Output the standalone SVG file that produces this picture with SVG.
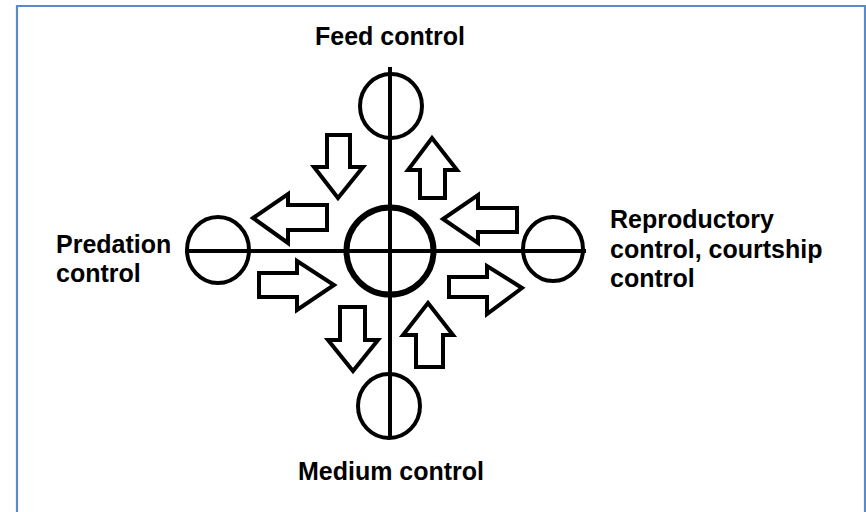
<svg xmlns="http://www.w3.org/2000/svg" width="866" height="512" viewBox="0 0 866 512">
<style>
.lbl{font-family:"Liberation Sans",Arial,sans-serif;font-weight:bold;font-size:25px;fill:#000}
.c{fill:none;stroke:#000;stroke-width:4}
.ln{stroke:#000;stroke-width:4;fill:none}
.ar{fill:#fff;stroke:#000;stroke-width:4;stroke-linejoin:miter}
</style>
<rect x="0" y="0" width="866" height="512" fill="#fff"/>
<path d="M17 520 V6 H865 V520" fill="none" stroke="#5b8ac8" stroke-width="2.2"/>
<g id="connectors">
<line class="ln" x1="390" y1="67" x2="390" y2="439"/>
<line class="ln" x1="185" y1="251" x2="586" y2="251"/>
<polygon class="ar" points="327,135 350,135 350,167 363,167 338,198 314,167 327,167"/>
<polygon class="ar" points="420,198 445,198 445,170 457,170 432,138 408,170 420,170"/>
<polygon class="ar" points="327,205 327,230 288,230 288,243 253,218 288,194 288,205"/>
<polygon class="ar" points="259,273 297,273 297,261 334,285 297,310 297,297 259,297"/>
<polygon class="ar" points="517,208 517,232 478,232 478,243 443,219 478,195 478,208"/>
<polygon class="ar" points="449,277 487,277 487,266 522,288 487,314 487,297 449,297"/>
<polygon class="ar" points="340,307 365,307 365,340 378,340 353,371 328,340 340,340"/>
<polygon class="ar" points="416,367 443,367 443,335 453,335 428,303 403,335 416,335"/>
</g>
<g id="center"><circle cx="390" cy="251" r="43.5" fill="none" stroke="#000" stroke-width="6"/></g>
<g id="feed"><ellipse class="c" cx="391" cy="106" rx="31" ry="32"/><text class="lbl" x="390" y="45" text-anchor="middle">Feed control</text></g>
<g id="medium"><ellipse class="c" cx="389" cy="406" rx="31" ry="32"/><text class="lbl" x="391" y="480" text-anchor="middle">Medium control</text></g>
<g id="predation"><ellipse class="c" cx="218" cy="250" rx="31" ry="33"/><text class="lbl" x="56" y="253">Predation</text><text class="lbl" x="56" y="282">control</text></g>
<g id="reproductory"><ellipse class="c" cx="553" cy="249" rx="30" ry="32"/><text class="lbl" x="610" y="228">Reproductory</text><text class="lbl" x="610" y="258">control, courtship</text><text class="lbl" x="610" y="287">control</text></g>
</svg>
